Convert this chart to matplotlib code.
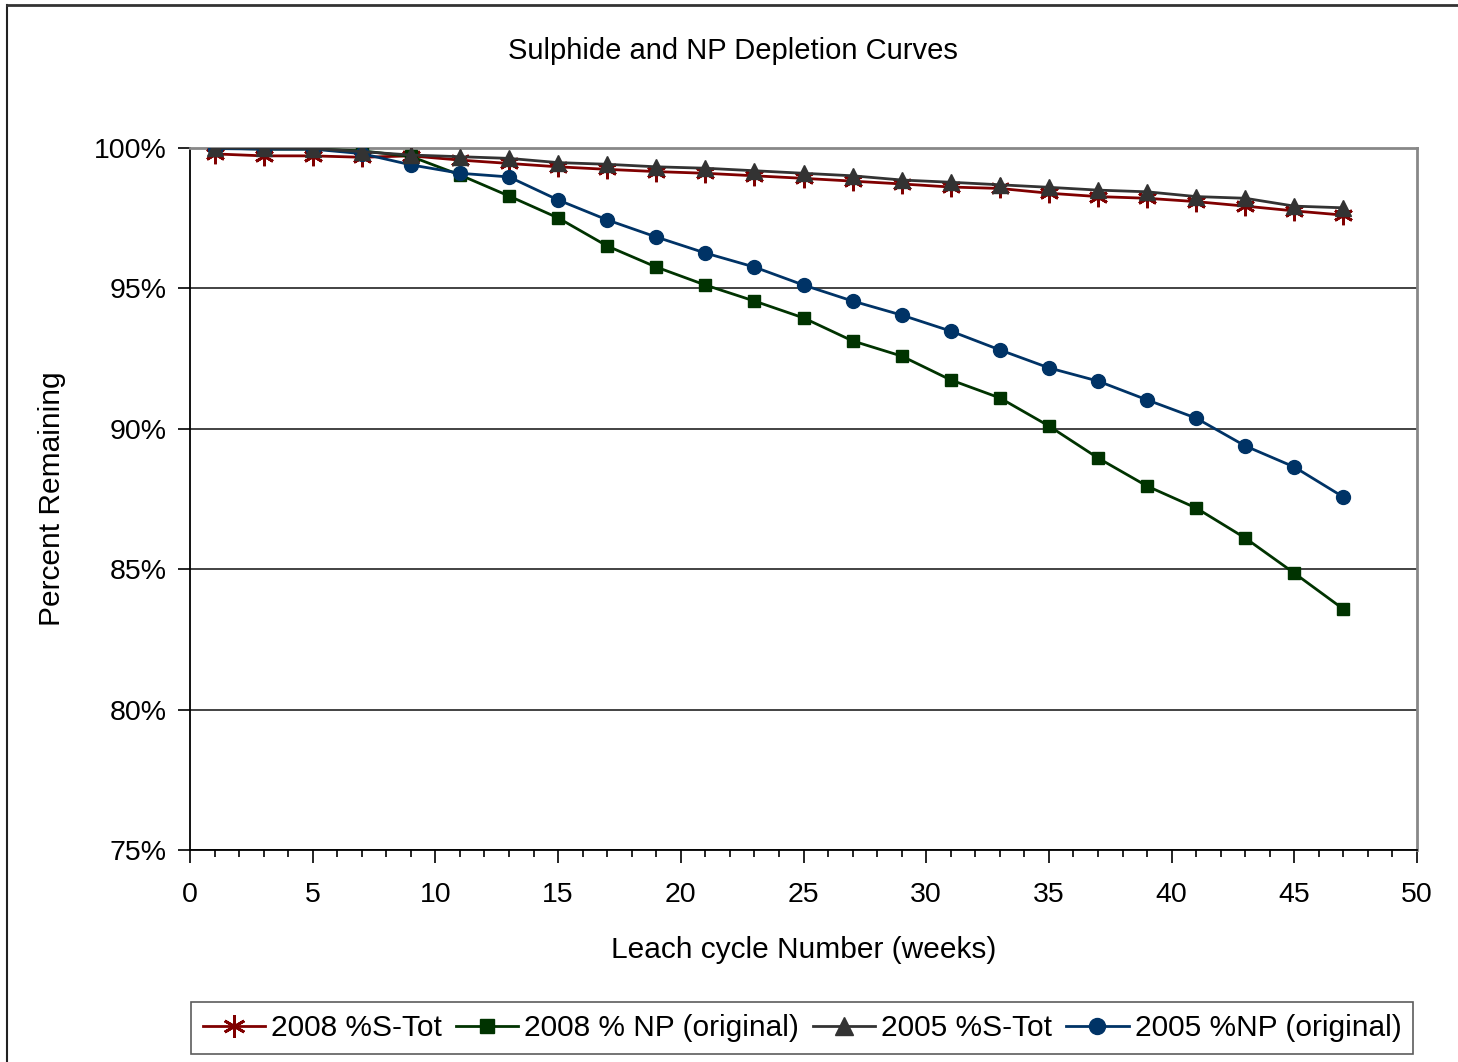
import numpy as np
import matplotlib
matplotlib.use("Agg")
import matplotlib.pyplot as plt
from matplotlib.lines import Line2D
from matplotlib.ticker import MultipleLocator, PercentFormatter

plt.rcParams['font.family'] = ['Liberation Sans', 'DejaVu Sans']

weeks = [1, 3, 5, 7, 9, 11, 13, 15, 17, 19, 21, 23, 25, 27, 29, 31, 33, 35, 37, 39, 41, 43, 45, 47]

s_tot_2008 = [99.79, 99.72, 99.72, 99.67, 99.72, 99.57, 99.45, 99.33, 99.24, 99.16, 99.10, 99.01,
              98.92, 98.82, 98.72, 98.61, 98.56, 98.39, 98.27, 98.21, 98.09, 97.93, 97.76, 97.61]
np_2008 = [100.0, 99.96, 99.96, 99.90, 99.70, 99.04, 98.29, 97.51, 96.51, 95.76, 95.12, 94.55,
           93.95, 93.13, 92.59, 91.74, 91.10, 90.10, 88.96, 87.96, 87.18, 86.11, 84.86, 83.58]
s_tot_2005 = [100.0, 100.0, 99.98, 99.87, 99.75, 99.69, 99.63, 99.48, 99.42, 99.33, 99.28, 99.19,
              99.10, 99.01, 98.86, 98.78, 98.69, 98.60, 98.50, 98.44, 98.27, 98.21, 97.93, 97.87]
np_2005 = [99.98, 99.96, 99.96, 99.80, 99.40, 99.10, 98.97, 98.15, 97.44, 96.83, 96.26, 95.76,
           95.12, 94.55, 94.05, 93.48, 92.81, 92.17, 91.70, 91.03, 90.38, 89.39, 88.64, 87.57]

fig = plt.figure(figsize=(14.58, 10.62), dpi=100)
ax = fig.add_axes([190 / 1458, 1 - 850 / 1062, (1417 - 190) / 1458, (850 - 148) / 1062])

# outer frame (left and top edges only)
fig.add_artist(Line2D([7 / 1458, 7 / 1458], [0, 1 - 5 / 1062], transform=fig.transFigure,
                      color='#222222', lw=1.5))
fig.add_artist(Line2D([7 / 1458, 1], [1 - 5 / 1062, 1 - 5 / 1062], transform=fig.transFigure,
                      color='#333333', lw=2))

ax.plot(weeks, s_tot_2008, color='#800000', lw=2, marker=(6, 2, 0), ms=14, mew=2,
        label='2008 %S-Tot', zorder=3)
ax.plot(weeks, np_2008, color='#003300', lw=2, marker='s', ms=8.5,
        label='2008 % NP (original)', zorder=3)
ax.plot(weeks, s_tot_2005, color='#333333', lw=2, marker='^', ms=11,
        label='2005 %S-Tot', zorder=4)
ax.plot(weeks, np_2005, color='#003366', lw=2, marker='o', ms=10,
        label='2005 %NP (original)', zorder=3)

ax.set_xlim(0, 50)
ax.set_ylim(75, 100)
ax.xaxis.set_major_locator(MultipleLocator(5))
ax.xaxis.set_minor_locator(MultipleLocator(1))
ax.yaxis.set_major_locator(MultipleLocator(5))
ax.yaxis.set_major_formatter(PercentFormatter(decimals=0))
ax.tick_params(axis='both', which='major', direction='out', length=9, width=1.2,
               labelsize=20.5, colors='black')
ax.tick_params(axis='x', which='major', pad=14)
ax.tick_params(axis='y', which='major', pad=8)
ax.tick_params(axis='x', which='minor', direction='out', length=5, width=1.2)
ax.grid(axis='y', color='#222222', lw=1.2)
ax.set_axisbelow(True)

for side in ['top', 'right']:
    ax.spines[side].set_color('#888888')
    ax.spines[side].set_linewidth(2)
for side in ['left', 'bottom']:
    ax.spines[side].set_color('black')
    ax.spines[side].set_linewidth(1.3)

fig.text(733 / 1458, 1 - 51 / 1062, 'Sulphide and NP Depletion Curves', fontsize=21,
         ha='center', va='center')
ax.set_xlabel('Leach cycle Number (weeks)', fontsize=21.5, labelpad=20)
ax.set_ylabel('Percent Remaining', fontsize=21.5, labelpad=20)

leg = fig.legend(loc='center', bbox_to_anchor=(802 / 1458, 1 - 1028 / 1062), ncol=4,
                 fontsize=21.5, frameon=True, fancybox=False, edgecolor='#333333',
                 handlelength=2.1, handletextpad=0.2, columnspacing=0.45,
                 borderpad=0.4, markerscale=1.15)
leg.get_frame().set_linewidth(1.2)

fig.savefig('out.png', dpi=100, facecolor='white')
